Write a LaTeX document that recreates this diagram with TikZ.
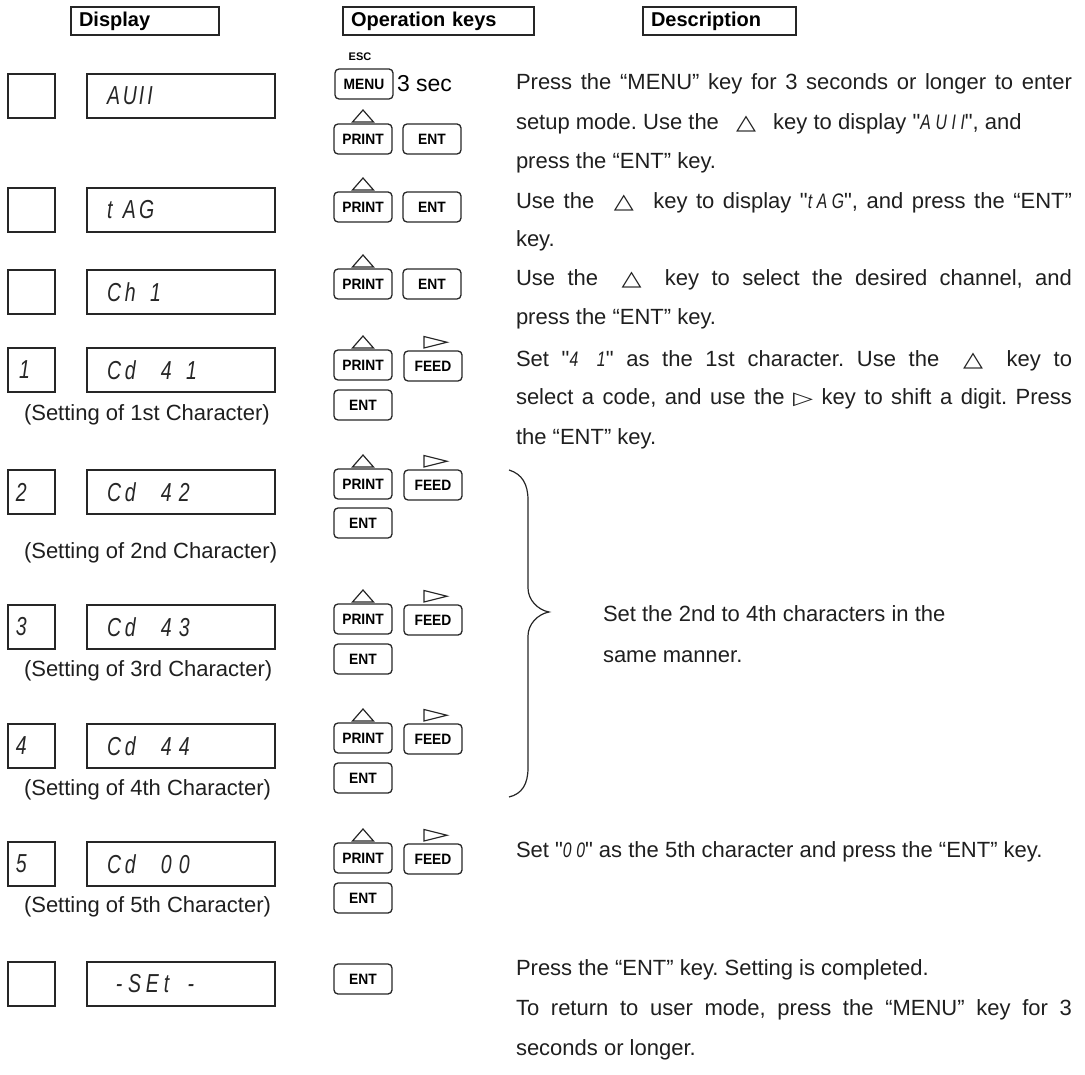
\documentclass[tikz,border=0pt]{standalone}
\usepackage{fontspec}
\setmainfont{Liberation Sans}[Ligatures=TeXOff]
\newfontfamily\segfont{Liberation Sans}[FakeStretch=0.75, LetterSpace=22]
\newfontfamily\segf{Liberation Sans}[FakeStretch=0.75]
\newfontfamily\keyf{Liberation Sans}[FakeStretch=0.92]
\newfontfamily\symfont{DejaVu Sans}
\frenchspacing
\newcommand\sgi[1]{{\segfont\itshape\fontsize{21}{24}\selectfont #1}}
\newcommand\uptri{\hspace{11pt}{\symfont\fontsize{20}{24}\selectfont\scalebox{1.3}[1.05]{△}}\hspace{11pt}}
\newcommand\rttri{{\symfont\fontsize{20}{24}\selectfont\scalebox{1.3}[0.9]{▷}}}
\newcommand\cl[1]{\makebox[18pt][l]{#1}}
\newcommand\clc[1]{\makebox[18pt][c]{#1}}
\newcommand\cln[1]{\makebox[16pt][l]{#1}}
\newcommand\cellr[1]{\makebox[18pt][r]{#1}}
\begin{document}
\begin{tikzpicture}[x=1pt,y=-1pt,
  every node/.style={inner sep=0pt, outer sep=0pt},
  hdr/.style={draw=black!85, line width=1.3pt, anchor=north west, minimum height=28pt,
    inner xsep=8pt, align=left, font=\bfseries\fontsize{20}{24}\selectfont},
  sq/.style={draw=black!85, line width=1.4pt, anchor=north west, minimum width=47pt, minimum height=44pt},
  dbox/.style={draw=black!85, line width=1.4pt, anchor=north west, minimum width=188pt, minimum height=44pt},
  segt/.style={anchor=west, text=black!85, font=\segf\itshape\fontsize{26}{28}\selectfont},
  keyb/.style={draw=black!85, rounded corners=4pt, line width=1.3pt, anchor=north west,
    minimum width=58pt, minimum height=30pt, font=\keyf\bfseries\fontsize{15}{17}\selectfont},
  capt/.style={anchor=west, text=black!88, font=\fontsize{22}{26}\selectfont},
  dl/.style={anchor=base west, text=black!88, font=\fontsize{22}{26}\selectfont},
  tri/.style={draw=black!85, line width=1.2pt, line join=miter}
]
\useasboundingbox (0,0) rectangle (1085,1075);

% headers
\node[hdr, text width=132pt] (hD) at (71,7) {Display};
\node[hdr, text width=175pt] (hO) at (343,7) {Operation keys};
\node[hdr, text width=137pt] (hS) at (643,7) {Description};

% display column
\foreach \n/\t in {1/74, 2/188, 3/270, 4/348, 5/470, 6/605, 7/724, 8/842, 9/962} {
  \node[sq] (sq\n) at (8,\t) {};
  \node[dbox] (db\n) at (87,\t) {};
}
\node[segt] (dt1) at (107,96) {\cln{A}\cln{U}I\hspace{3pt}I};
\node[segt] (dt2) at (107,210) {\cln{t}\cln{A}\cln{G}};
\node[segt] (dt3) at (107,292) {\cl{C}\cl{h}\cellr{1}};
\node[segt] (dt4) at (107,370) {\cl{C}\cl{d}\cl{\ }\cl{4}\cellr{1}};
\node[segt] (dt5) at (107,492) {\cl{C}\cl{d}\cl{\ }\cl{4}\cl{2}};
\node[segt] (dt6) at (107,627) {\cl{C}\cl{d}\cl{\ }\cl{4}\cl{3}};
\node[segt] (dt7) at (107,746) {\cl{C}\cl{d}\cl{\ }\cl{4}\cl{4}};
\node[segt] (dt8) at (107,864) {\cl{C}\cl{d}\cl{\ }\cl{0}\cl{0}};
\node[segt] (dt9) at (110,984) {\clc{-}\cl{S}\cl{E}\cl{t}\clc{-}};
\node[segt] (st4) at (12,370) {\cellr{1}};
\node[segt] (st5) at (16,492) {2};
\node[segt] (st6) at (16,627) {3};
\node[segt] (st7) at (16,746) {4};
\node[segt] (st8) at (16,864) {5};

\node[capt] (c4) at (24,415) {(Setting of 1st Character)};
\node[capt] (c5) at (24,553) {(Setting of 2nd Character)};
\node[capt] (c6) at (24,671) {(Setting of 3rd Character)};
\node[capt] (c7) at (24,790) {(Setting of 4th Character)};
\node[capt] (c8) at (24,907) {(Setting of 5th Character)};

% keys column
\node[anchor=center, font=\bfseries\fontsize{11}{13}\selectfont] (esc) at (360,57) {ESC};
\node[keyb] (menu) at (335,69) {MENU};
\node[anchor=west, font=\fontsize{23}{26}\selectfont] (sec) at (397,84) {3 sec};

\node[keyb] (p1) at (334,124) {PRINT};
\node[keyb] (e1) at (403,124) {ENT};
\node[keyb] (p2) at (334,192) {PRINT};
\node[keyb] (e2) at (403,192) {ENT};
\node[keyb] (p3) at (334,269) {PRINT};
\node[keyb] (e3) at (403,269) {ENT};
\node[keyb] (p4) at (334,350) {PRINT};
\node[keyb] (f4) at (404,351) {FEED};
\node[keyb] (n4) at (334,390) {ENT};
\node[keyb] (p5) at (334,469) {PRINT};
\node[keyb] (f5) at (404,470) {FEED};
\node[keyb] (n5) at (334,508) {ENT};
\node[keyb] (p6) at (334,604) {PRINT};
\node[keyb] (f6) at (404,605) {FEED};
\node[keyb] (n6) at (334,644) {ENT};
\node[keyb] (p7) at (334,723) {PRINT};
\node[keyb] (f7) at (404,724) {FEED};
\node[keyb] (n7) at (334,763) {ENT};
\node[keyb] (p8) at (334,843) {PRINT};
\node[keyb] (f8) at (404,844) {FEED};
\node[keyb] (n8) at (334,883) {ENT};
\node[keyb] (n9) at (334,964) {ENT};

% up triangles over PRINT keys
\foreach \k in {p1,p2,p3,p4,p5,p6,p7,p8} {
  \draw[tri] ([yshift=2pt]\k.north) ++(-10.5,0) -- ++(21,0) -- ++(-10.5,-12) -- cycle;
}
% right triangles over FEED keys
\foreach \k in {f4,f5,f6,f7,f8} {
  \draw[tri] ([xshift=-9pt,yshift=3pt]\k.north) -- ++(0,-11.5) -- ++(23,5.75) -- cycle;
}

% description column
\node[dl] (d1) at (516,90) {\makebox[556pt][s]{Press the “MENU” key for 3 seconds or longer to enter}};
\node[dl] (d2) at (516,130) {setup mode. Use the \uptri{} key to display "\sgi{AUII}", and};
\node[dl] (d3) at (516,169) {press the “ENT” key.};
\node[dl] (d4) at (516,209) {\makebox[556pt][s]{Use the \uptri{} key to display "\sgi{tAG}", and press the “ENT”}};
\node[dl] (d5) at (516,247) {key.};
\node[dl] (d6) at (516,286) {\makebox[556pt][s]{Use the \uptri{} key to select the desired channel, and}};
\node[dl] (d7) at (516,325) {press the “ENT” key.};
\node[dl] (d8) at (516,367) {\makebox[556pt][s]{Set "\sgi{4 1}" as the 1st character. Use the \uptri{} key to}};
\node[dl] (d9) at (516,405) {\makebox[556pt][s]{select a code, and use the \rttri{} key to shift a digit. Press}};
\node[dl] (d10) at (516,444) {the “ENT” key.};

\draw[line width=1.2pt, black!85] (509,470) .. controls (522,474) and (528,484) .. (528,500)
  -- (528,588) .. controls (528,600) and (538,610) .. (549,612)
  .. controls (538,614) and (528,624) .. (528,636) -- (528,768)
  .. controls (528,784) and (522,794) .. (509,797);
\node[dl] (b1) at (603,621) {Set the 2nd to 4th characters in the};
\node[dl] (b2) at (603,662) {same manner.};

\node[dl] (d11) at (516,857) {Set "\sgi{00}" as the 5th character and press the “ENT” key.};
\node[dl] (d12) at (516,975) {Press the “ENT” key. Setting is completed.};
\node[dl] (d13) at (516,1015) {\makebox[556pt][s]{To return to user mode, press the “MENU” key for 3}};
\node[dl] (d14) at (516,1055) {seconds or longer.};
\end{tikzpicture}
\end{document}
